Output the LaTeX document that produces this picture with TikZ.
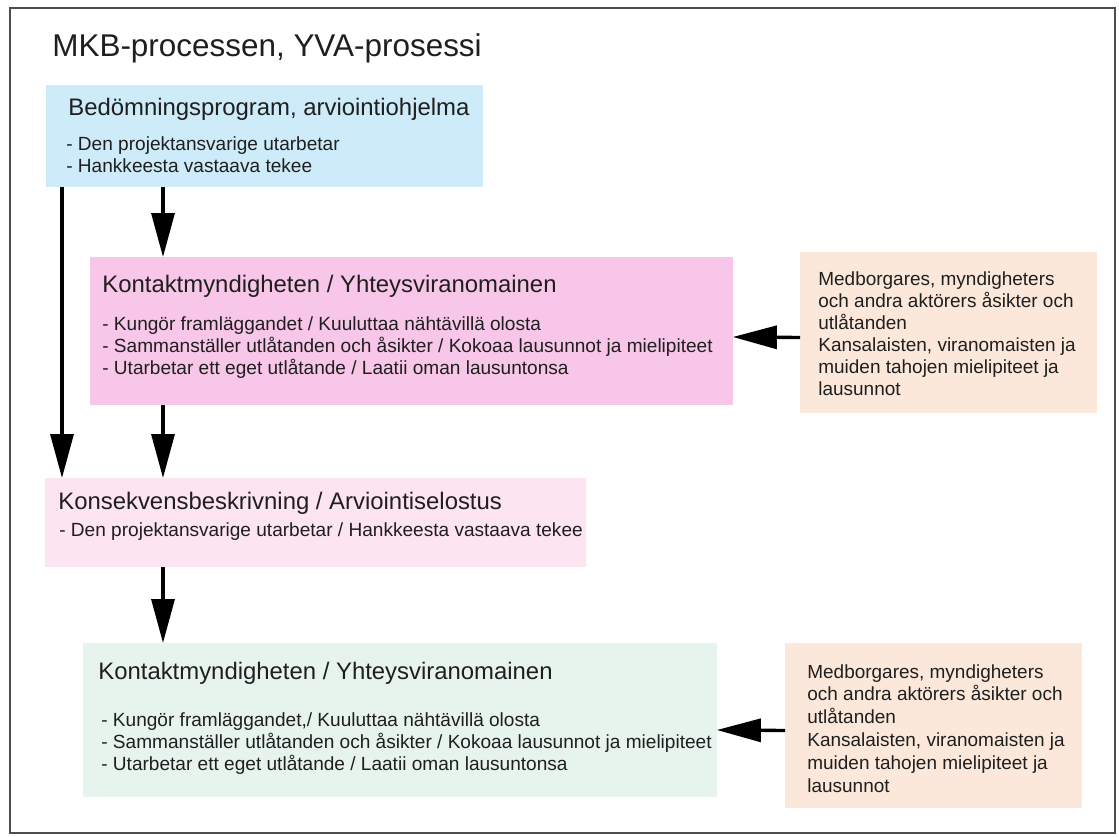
\documentclass[tikz,border=0pt]{standalone}
\usepackage{fontspec}
\setmainfont{Liberation Sans}
\usetikzlibrary{arrows.meta,calc}
\definecolor{progblue}{HTML}{CDEBF8}
\definecolor{kontaktpink}{HTML}{F8C6E8}
\definecolor{beskpink}{HTML}{FCE5F0}
\definecolor{kontaktgreen}{HTML}{E7F4ED}
\definecolor{opinionpeach}{HTML}{FCE8DA}

\begin{document}
\begin{tikzpicture}[x=0.02cm,y=-0.02cm,text=black!88,
 ar/.style={-{Triangle[length=8.8mm,width=4.6mm]},line width=1.9pt},
 box/.style={anchor=north west,inner sep=0pt,outer sep=0pt},
 head/.style={anchor=base west,inner sep=0pt,font=\fontsize{13.6}{16}\selectfont},
 bul/.style={anchor=base west,inner sep=0pt,font=\fontsize{10.85}{13}\selectfont},
 opin/.style={anchor=base west,inner sep=0pt,font=\fontsize{10.8}{12.5}\selectfont}]
\useasboundingbox (0,0) rectangle (1119,837);
\draw[black!70,line width=1.1pt] (10,8) rectangle (1115,833);
\node[anchor=base west,inner sep=0pt,font=\fontsize{17.9}{21}\selectfont] (title) at (52,57) {MKB-processen, YVA-prosessi};
% boxes
\node[box,fill=progblue,minimum width=8.74cm,minimum height=2.04cm] (prog) at (46,85) {};
\node[box,fill=kontaktpink,minimum width=12.86cm,minimum height=2.96cm] (kontakt1) at (90,257) {};
\node[box,fill=opinionpeach,minimum width=5.94cm,minimum height=3.22cm] (opinion1) at (800,252) {};
\node[box,fill=beskpink,minimum width=10.82cm,minimum height=1.78cm] (besk) at (45,478) {};
\node[box,fill=kontaktgreen,minimum width=12.68cm,minimum height=3.08cm] (kontakt2) at (83,643) {};
\node[box,fill=opinionpeach,minimum width=5.94cm,minimum height=3.3cm] (opinion2) at (785,643) {};
% texts
\node[head] (progh) at (68,116) {Bedömningsprogram, arviointiohjelma};
\foreach \t [count=\i] in {{- Den projektansvarige utarbetar},{- Hankkeesta vastaava tekee}}
 \node[bul] (progb\i) at (66,{151+21.5*(\i-1)}) {\t};
\node[head] (kontakt1h) at (102,293) {Kontaktmyndigheten / Yhteysviranomainen};
\foreach \t [count=\i] in {{- Kungör framläggandet / Kuuluttaa nähtävillä olosta},
 {- Sammanställer utlåtanden och åsikter / Kokoaa lausunnot ja mielipiteet},
 {- Utarbetar ett eget utlåtande / Laatii oman lausuntonsa}}
 \node[bul] (kontakt1b\i) at (102,{331+22*(\i-1)}) {\t};
\node[head] (beskh) at (58,510) {Konsekvensbeskrivning / Arviointiselostus};
\node[bul] (beskb) at (59,537) {- Den projektansvarige utarbetar / Hankkeesta vastaava tekee};
\node[head] (kontakt2h) at (98,679) {Kontaktmyndigheten / Yhteysviranomainen};
\foreach \t [count=\i] in {{- Kungör framläggandet,/ Kuuluttaa nähtävillä olosta},
 {- Sammanställer utlåtanden och åsikter / Kokoaa lausunnot ja mielipiteet},
 {- Utarbetar ett eget utlåtande / Laatii oman lausuntonsa}}
 \node[bul] (kontakt2b\i) at (101,{726+22*(\i-1)}) {\t};
\foreach \t [count=\i] in {{Medborgares, myndigheters},{och andra aktörers åsikter och},{utlåtanden},
 {Kansalaisten, viranomaisten ja},{muiden tahojen mielipiteet ja},{lausunnot}} {
 \node[opin] (opinion1t\i) at (818,{286+22*(\i-1)}) {\t};
 \node[opin] (opinion2t\i) at (807,{678+22.8*(\i-1)}) {\t};}
% arrows
\draw[ar] ($(prog.south west)+(16,0)$) -- ($(besk.north west)+(17,0)$);
\draw[ar] ($(prog.south west)+(117,0)$) -- ($(kontakt1.north west)+(73,0)$);
\draw[ar] ($(kontakt1.south west)+(73,0)$) -- ($(besk.north west)+(118,0)$);
\draw[ar] ($(besk.south west)+(118,0)$) -- ($(kontakt2.north west)+(80,0)$);
\draw[ar] ($(opinion1.west)+(0,5)$) -- ($(kontakt1.east)+(0,6)$);
\draw[ar] ($(opinion2.west)+(0,5)$) -- ($(kontakt2.east)+(0,10)$);
\end{tikzpicture}
\end{document}
